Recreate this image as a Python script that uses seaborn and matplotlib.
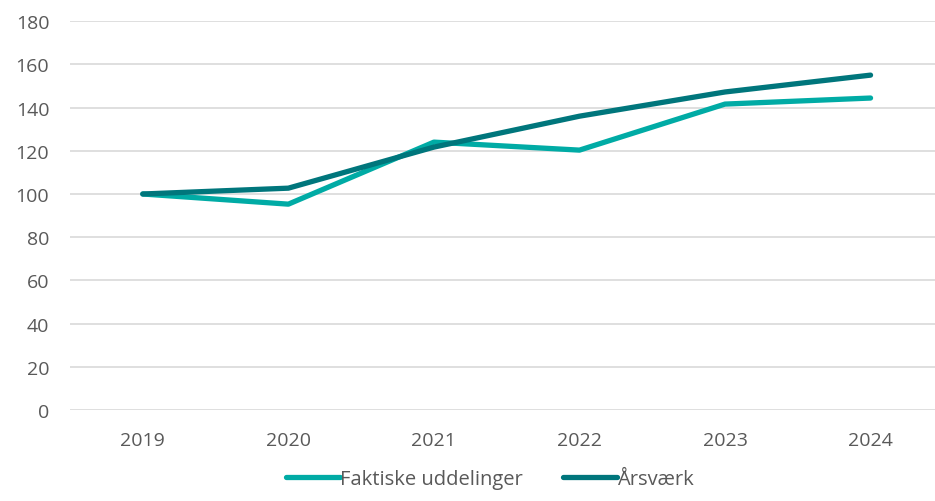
import matplotlib
matplotlib.use("Agg")
import matplotlib.pyplot as plt
import pandas as pd
import seaborn as sns

years = ["2019", "2020", "2021", "2022", "2023", "2024"]
faktiske = [100, 95.3, 124.0, 120.3, 141.6, 144.4]
aarsvaerk = [100, 102.7, 121.7, 136.0, 147.2, 155.0]
series_names = ["Faktiske uddelinger", "Årsværk"]
colors = ["#00ABA5", "#00767C"]

df = pd.DataFrame({"år": years * 2,
                   "værdi": faktiske + aarsvaerk,
                   "serie": [series_names[0]] * 6 + [series_names[1]] * 6})

sns.set_style("white")
plt.rcParams["font.family"] = ["Open Sans", "DejaVu Sans"]

fig = plt.figure(figsize=(9.35, 5.02), dpi=100)
ax = fig.add_axes([0.0749, 0.181, 0.934, 0.775])

sns.lineplot(data=df, x="år", y="værdi", hue="serie", palette=colors,
             linewidth=3.8, ax=ax, legend=False, sort=False)
for ln in ax.get_lines():
    ln.set_solid_capstyle("round")
    ln.set_solid_joinstyle("round")

ax.set_xlim(-0.5, 5.5)
ax.set_ylim(0, 180)
ax.set_yticks(range(0, 181, 20))
ax.yaxis.grid(True, color="#D9D9D9", linewidth=1.2)
ax.set_axisbelow(True)
for s in ax.spines.values():
    s.set_visible(False)
ax.set_xlabel("")
ax.set_ylabel("")
ax.tick_params(axis="both", length=0, labelsize=14, colors="#595959")
ax.tick_params(axis="x", pad=15)
ax.tick_params(axis="y", pad=15)

handles = [plt.Line2D([], [], color=c, linewidth=3.8, solid_capstyle="round")
           for c in colors]
fig.legend(handles, series_names, loc="lower center", bbox_to_anchor=(0.524, -0.012),
           ncol=2, frameon=False, fontsize=14.5, labelcolor="#595959",
           handlelength=2.7, handletextpad=0.0, columnspacing=2.0)

fig.savefig("out.png", dpi=100)
